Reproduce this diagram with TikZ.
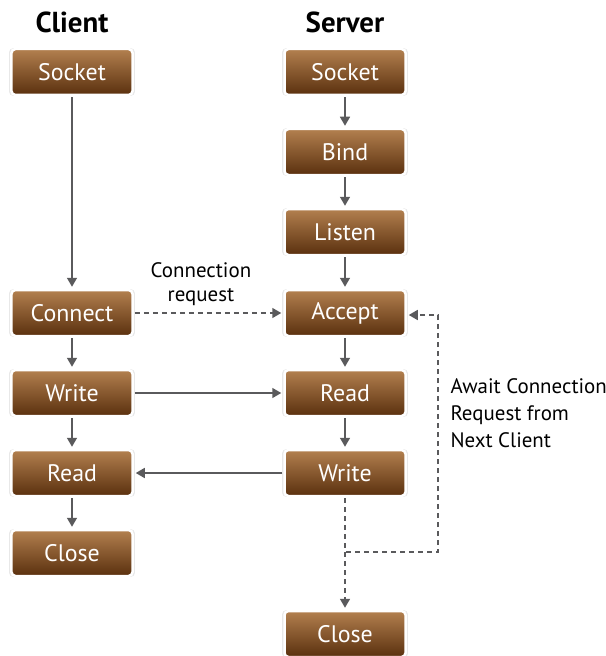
\documentclass[tikz,border=0pt]{standalone}
\usepackage{fontspec}
\setmainfont{PT Sans}
\usetikzlibrary{arrows.meta,shadows,positioning}
\definecolor{boxtop}{HTML}{B3804F}
\definecolor{boxbot}{HTML}{5A300E}
\definecolor{arr}{HTML}{5A5A5C}
\tikzset{
  stepbox/.style={rectangle, rounded corners=4bp, minimum width=121bp, minimum height=46bp,
    top color=boxtop, bottom color=boxbot, draw=white, line width=2.5bp,
    drop shadow={opacity=0.18, shadow xshift=0bp, shadow yshift=0bp, shadow scale=1.04},
    text=white, font=\fontsize{24}{28}\selectfont, inner sep=0pt},
  hdr/.style={font=\bfseries\fontsize{29}{32}\selectfont, text=black},
  lbl/.style={font=\fontsize{21}{27}\selectfont, text=black},
  conn/.style={draw=arr, line width=1.6bp, -{Triangle[length=9bp,width=10bp]}, shorten >=2bp, shorten <=1bp},
  dconn/.style={conn, dash pattern=on 5bp off 4bp}
}
\begin{document}
\begin{tikzpicture}[x=1bp,y=-1bp]
\useasboundingbox (0,0) rectangle (606,656);
\node[hdr] (hc) at (72,22) {Client};
\node[hdr] (hs) at (345,22) {Server};
% client
\node[stepbox] (cs) at (72,72) {Socket};
\node[stepbox] (cc) at (72,313) {Connect};
\node[stepbox] (cw) at (72,393) {Write};
\node[stepbox] (cr) at (72,473) {Read};
\node[stepbox] (cx) at (72,553) {Close};
% server
\node[stepbox] (ss) at (345,72) {Socket};
\node[stepbox] (sb) at (345,152) {Bind};
\node[stepbox] (sl) at (345,232) {Listen};
\node[stepbox] (sa) at (345,313) {Accept};
\node[stepbox] (sr) at (345,393) {Read};
\node[stepbox] (sw) at (345,473) {Write};
\node[stepbox] (sx) at (345,634) {Close};
% labels
\node[lbl] (l1) at (201,270) {Connection};
\node[lbl] (l2) at (201,297) {request};
\node[lbl, align=left, anchor=north west] (l3) at (447,375) {Await Connection\\Request from\\Next Client};
% client arrows
\draw[conn] (cs) -- (cc);
\draw[conn] (cc) -- (cw);
\draw[conn] (cw) -- (cr);
\draw[conn] (cr) -- (cx);
% server arrows
\draw[conn] (ss) -- (sb);
\draw[conn] (sb) -- (sl);
\draw[conn] (sl) -- (sa);
\draw[conn] (sa) -- (sr);
\draw[conn] (sr) -- (sw);
% cross arrows
\draw[dconn] (cc) -- (sa);
\draw[conn] (cw) -- (sr);
\draw[conn] (sw) -- (cr);
% loop
\coordinate (br) at (345,552);
\coordinate (c1) at (438,552);
\coordinate (c2) at (438,315);
\draw[dconn] (sw) -- (sx);
\draw[dconn] (br) -- (c1) -- (c2) -- (sa.east |- c2);
\end{tikzpicture}
\end{document}
